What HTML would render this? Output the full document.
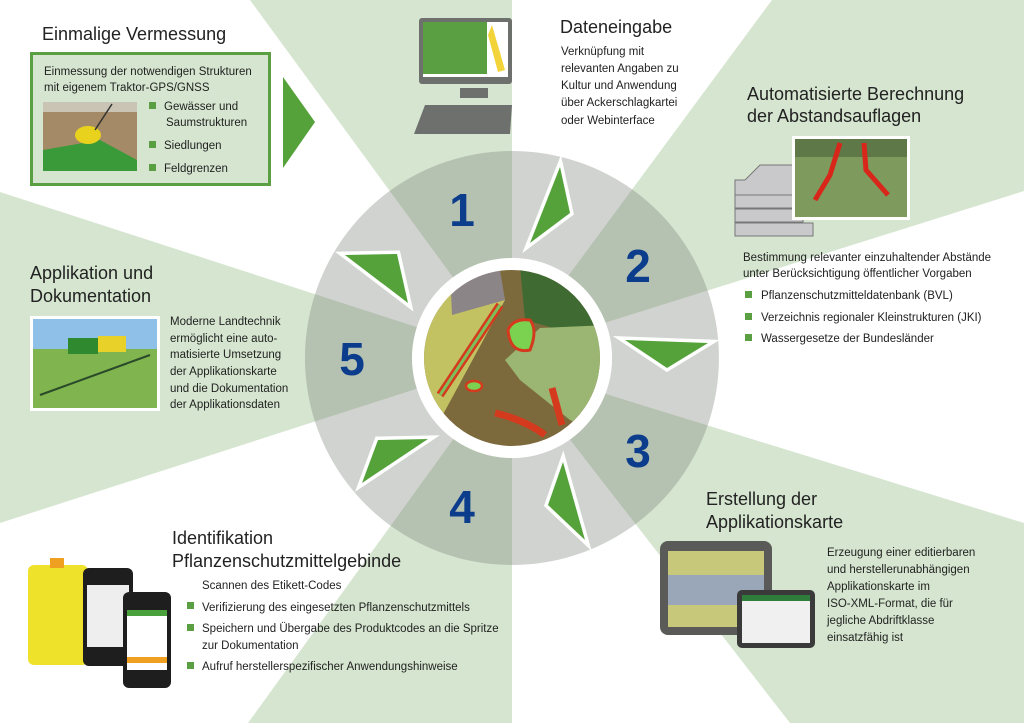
<!DOCTYPE html>
<html><head><meta charset="utf-8"><style>
html,body{margin:0;padding:0;background:#fff}
svg{display:block}
text{font-family:"Liberation Sans",sans-serif;fill:#222}
.t{font-size:18px}
.b{font-size:11.5px}
.n{font-size:46px;font-weight:bold;fill:#0c3d8c}
</style></head><body>
<svg width="1024" height="723" viewBox="0 0 1024 723" xmlns="http://www.w3.org/2000/svg">
<rect width="1024" height="723" fill="#fff"/>
<g fill="#d5e5cf">
<polygon points="250,0 512,0 512,358"/>
<polygon points="772,0 1024,0 1024,191 512,352"/>
<polygon points="1024,523 1024,723 790,723 512,365"/>
<polygon points="248,723 512,723 512,358"/>
<polygon points="0,192 512,358 0,523"/>
</g>
<path d="M512,151 A207,207 0 1,1 511.9,151 Z M512,258 A100,100 0 1,0 512.1,258 Z" fill="rgba(128,132,125,0.36)" fill-rule="evenodd"/>
<circle cx="512" cy="358" r="100" fill="#fff"/>
<clipPath id="cc"><circle cx="512" cy="358" r="88"/></clipPath>
<g clip-path="url(#cc)">
<rect x="420" y="266" width="190" height="190" fill="#7d6a3c"/>
<polygon points="420,300 500,280 505,300 440,420 420,420" fill="#c2c263"/>
<polygon points="450,270 500,270 505,300 452,315" fill="#8c8588"/>
<polygon points="520,266 610,266 610,330 560,330 525,320" fill="#3f6a32"/>
<polygon points="540,328 610,325 610,440 570,420 545,400 520,380 505,360" fill="#9bb672"/>
<path d="M500,305 L440,395" stroke="#d43a1e" stroke-width="8" fill="none"/>
<path d="M500,305 L440,395" stroke="#7fbf5a" stroke-width="3" fill="none"/>
<path d="M508,330 q5,-12 22,-10 q8,10 0,30 q-20,4 -22,-20z" fill="#7bd250" stroke="#d43a1e" stroke-width="3"/>
<ellipse cx="474" cy="386" rx="8" ry="5" fill="#7bd250" stroke="#d43a1e" stroke-width="2.5"/>
<path d="M495,413 Q525,420 545,435" stroke="#d43a1e" stroke-width="7" fill="none"/>
<path d="M552,388 L562,425" stroke="#d43a1e" stroke-width="7" fill="none"/>
</g>
<g fill="#55a23b" stroke="#fff" stroke-width="7" stroke-linejoin="miter" paint-order="stroke">
<polygon points="560,167 570,213 530,243"/>
<polygon points="625,340 708,343 667,368"/>
<polygon points="563,462 585,540 548,505"/>
<polygon points="378,440 428,439 362,483"/>
<polygon points="345,255 397,254 408,303"/>
</g>
<text class="n" x="462" y="226" text-anchor="middle">1</text>
<text class="n" x="638" y="282" text-anchor="middle">2</text>
<text class="n" x="638" y="467" text-anchor="middle">3</text>
<text class="n" x="462" y="523" text-anchor="middle">4</text>
<text class="n" x="352" y="375" text-anchor="middle">5</text>

<text class="t" x="42" y="40">Einmalige Vermessung</text>
<rect x="31.5" y="53.5" width="238" height="131" fill="#d5e5cf" stroke="#5aa042" stroke-width="3"/>
<text class="b" x="44" y="75">Einmessung der notwendigen Strukturen</text>
<text class="b" x="44" y="91">mit eigenem Traktor-GPS/GNSS</text>
<rect x="43" y="102" width="94" height="69" fill="#a48a66"/>
<rect x="43" y="102" width="94" height="10" fill="#c9c4b4"/>
<polygon points="43,150 100,140 137,160 137,171 43,171" fill="#3a9a3a"/>
<ellipse cx="88" cy="135" rx="13" ry="9" fill="#e8d21e"/>
<line x1="95" y1="130" x2="112" y2="104" stroke="#333" stroke-width="1.5"/>
<g fill="#5aa042"><rect x="149" y="102" width="7" height="7"/><rect x="149" y="141" width="7" height="7"/><rect x="149" y="164" width="7" height="7"/></g>
<text class="b" x="164" y="110">Gewässer und</text>
<text class="b" x="166" y="126">Saumstrukturen</text>
<text class="b" x="164" y="149">Siedlungen</text>
<text class="b" x="164" y="172">Feldgrenzen</text>
<polygon points="283,77 315,122 283,168" fill="#55a23b"/>

<rect x="419" y="18" width="93" height="66" rx="3" fill="#6e706e"/>
<rect x="423" y="22" width="85" height="55" fill="#fff"/>
<rect x="423" y="22" width="64" height="52" fill="#5aa042"/>
<polygon points="492,25 505,70 498,72 488,35" fill="#f2d43a"/>
<rect x="460" y="88" width="28" height="10" fill="#6e706e"/>
<polygon points="425,105 512,105 510,134 414,134" fill="#6e706e"/>
<text class="t" x="560" y="33">Dateneingabe</text>
<text class="b" x="561" y="55">Verknüpfung mit</text>
<text class="b" x="561" y="72">relevanten Angaben zu</text>
<text class="b" x="561" y="89">Kultur und Anwendung</text>
<text class="b" x="561" y="106">über Ackerschlagkartei</text>
<text class="b" x="561" y="124">oder Webinterface</text>

<text class="t" x="747" y="100">Automatisierte Berechnung</text>
<text class="t" x="747" y="122">der Abstandsauflagen</text>
<g fill="#c9c9cc" stroke="#777" stroke-width="1">
<polygon points="745,180 760,165 800,165 800,195 735,195 735,180"/>
<rect x="735" y="195" width="68" height="13"/>
<rect x="735" y="209" width="68" height="13"/>
<rect x="735" y="223" width="78" height="13"/>
</g>
<rect x="792" y="136" width="118" height="84" fill="#fff"/>
<rect x="795" y="139" width="112" height="78" fill="#7e9a5d"/>
<rect x="795" y="139" width="112" height="18" fill="#5e7848"/>
<path d="M840,143 L830,175 L815,200" stroke="#d8261a" stroke-width="5" fill="none"/>
<path d="M864,143 L866,170 L888,195" stroke="#d8261a" stroke-width="5" fill="none"/>
<text class="b" x="743" y="261">Bestimmung relevanter einzuhaltender Abstände</text>
<text class="b" x="743" y="277">unter Berücksichtigung öffentlicher Vorgaben</text>
<g fill="#5aa042"><rect x="745" y="291" width="7" height="7"/><rect x="745" y="313" width="7" height="7"/><rect x="745" y="334" width="7" height="7"/></g>
<text class="b" x="761" y="299">Pflanzenschutzmitteldatenbank (BVL)</text>
<text class="b" x="761" y="321">Verzeichnis regionaler Kleinstrukturen (JKI)</text>
<text class="b" x="761" y="342">Wassergesetze der Bundesländer</text>

<text class="t" x="706" y="505">Erstellung der</text>
<text class="t" x="706" y="528">Applikationskarte</text>
<rect x="660" y="541" width="112" height="94" rx="8" fill="#5a5a58"/>
<rect x="668" y="551" width="96" height="76" fill="#c8c87a"/>
<rect x="668" y="575" width="96" height="30" fill="#9aa7b9"/>
<rect x="737" y="590" width="78" height="58" rx="5" fill="#3a3a3a"/>
<rect x="742" y="595" width="68" height="48" fill="#f0f0f0"/>
<rect x="742" y="595" width="68" height="6" fill="#2e7d3a"/>
<text class="b" x="827" y="556">Erzeugung einer editierbaren</text>
<text class="b" x="827" y="573">und herstellerunabhängigen</text>
<text class="b" x="827" y="590">Applikationskarte im</text>
<text class="b" x="827" y="607">ISO-XML-Format, die für</text>
<text class="b" x="827" y="624">jegliche Abdriftklasse</text>
<text class="b" x="827" y="641">einsatzfähig ist</text>

<text class="t" x="172" y="544">Identifikation</text>
<text class="t" x="172" y="567">Pflanzenschutzmittelgebinde</text>
<rect x="28" y="565" width="60" height="100" rx="6" fill="#efe22a"/>
<rect x="50" y="558" width="14" height="10" fill="#f0a020"/>
<rect x="83" y="568" width="50" height="98" rx="6" fill="#1e1e1e"/>
<rect x="87" y="585" width="42" height="62" fill="#eee"/>
<rect x="123" y="592" width="48" height="96" rx="6" fill="#1e1e1e"/>
<rect x="127" y="610" width="40" height="60" fill="#fff"/>
<rect x="127" y="610" width="40" height="6" fill="#4aa03a"/>
<rect x="127" y="657" width="40" height="6" fill="#f0a020"/>
<text class="b" x="202" y="589">Scannen des Etikett-Codes</text>
<g fill="#5aa042"><rect x="187" y="602" width="7" height="7"/><rect x="187" y="624" width="7" height="7"/><rect x="187" y="662" width="7" height="7"/></g>
<text class="b" x="202" y="611">Verifizierung des eingesetzten Pflanzenschutzmittels</text>
<text class="b" x="202" y="632">Speichern und Übergabe des Produktcodes an die Spritze</text>
<text class="b" x="202" y="649">zur Dokumentation</text>
<text class="b" x="202" y="670">Aufruf herstellerspezifischer Anwendungshinweise</text>

<text class="t" x="30" y="279">Applikation und</text>
<text class="t" x="30" y="302">Dokumentation</text>
<rect x="30" y="316" width="130" height="95" fill="#fff"/>
<rect x="33" y="319" width="124" height="89" fill="#7fb44e"/>
<rect x="33" y="319" width="124" height="30" fill="#8fc1e8"/>
<rect x="68" y="338" width="30" height="16" fill="#2f8a2f"/>
<rect x="98" y="336" width="28" height="16" fill="#e8d22a"/>
<line x1="40" y1="395" x2="150" y2="355" stroke="#2a4a2a" stroke-width="2"/>
<text class="b" x="170" y="325">Moderne Landtechnik</text>
<text class="b" x="170" y="342">ermöglicht eine auto-</text>
<text class="b" x="170" y="358">matisierte Umsetzung</text>
<text class="b" x="170" y="375">der Applikationskarte</text>
<text class="b" x="170" y="392">und die Dokumentation</text>
<text class="b" x="170" y="408">der Applikationsdaten</text>
</svg>
</body></html>
